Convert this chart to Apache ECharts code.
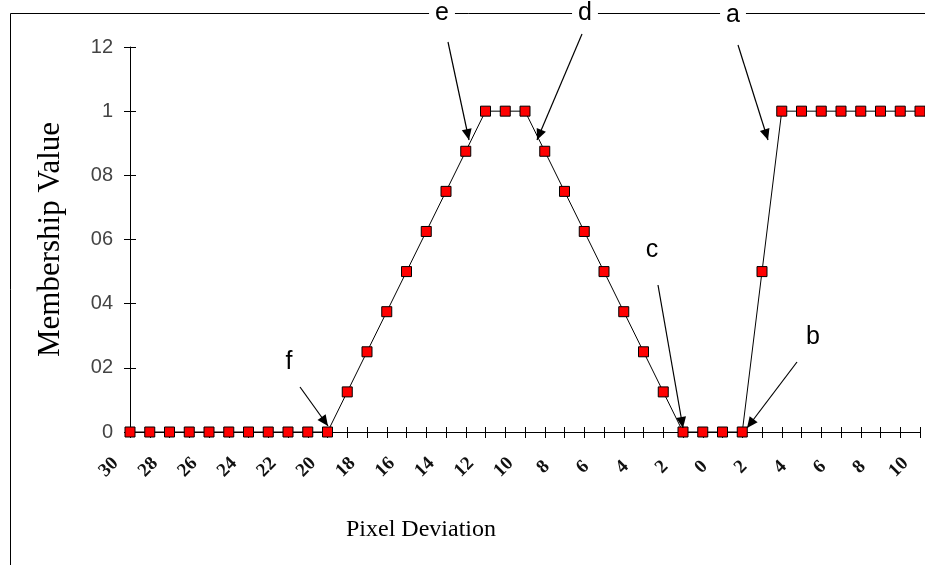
<!DOCTYPE html>
<html>
<head>
<meta charset="utf-8">
<script src="https://cdn.jsdelivr.net/npm/echarts@6/dist/echarts.min.js"></script>
<style>
  html, body { margin: 0; padding: 0; background: #fff; }
  #main { width: 925px; height: 565px; }
</style>
</head>
<body>
<div id="main"></div>
<script>
// 像素偏差（类目轴）
var pixelDeviation = [-30, -29, -28, -27, -26, -25, -24, -23, -22, -21, -20,
  -19, -18, -17, -16, -15, -14, -13, -12, -11, -10,
  -9, -8, -7, -6, -5, -4, -3, -2, -1, 0,
  1, 2, 3, 4, 5, 6, 7, 8, 9, 10];
// 隶属度
var membership = [0, 0, 0, 0, 0, 0, 0, 0, 0, 0, 0,
  0.125, 0.25, 0.375, 0.5, 0.625, 0.75, 0.875, 1, 1, 1,
  0.875, 0.75, 0.625, 0.5, 0.375, 0.25, 0.125, 0, 0, 0,
  0, 0.5, 1, 1, 1, 1, 1, 1, 1, 1];
// y轴刻度文字（原图中小数点丢失）
var yTickLabels = ['0', '02', '04', '06', '08', '1', '12'];

// 注释箭头: 文字位置 + 起点 + 终点
var notes = [
  { t: 'e', tx: 442, ty: 13, from: [448, 42], to: [469, 140] },
  { t: 'd', tx: 585, ty: 13, from: [582, 34], to: [537, 140] },
  { t: 'a', tx: 733, ty: 15, from: [738, 45], to: [768, 140] },
  { t: 'c', tx: 652, ty: 250, from: [658, 285], to: [683, 428] },
  { t: 'b', tx: 813, ty: 337, from: [797, 362], to: [747, 428] },
  { t: 'f', tx: 289, ty: 362, from: [300, 387], to: [328, 426] }
];

var div = document.getElementById('main');
var myChart = echarts.init(div);

// 箭头三角形
function arrowHead(from, to) {
  var dx = to[0] - from[0], dy = to[1] - from[1];
  var len = Math.sqrt(dx * dx + dy * dy);
  var ux = dx / len, uy = dy / len;
  var L = 11, W = 5;
  var bx = to[0] - ux * L, by = to[1] - uy * L;
  return [to, [bx - uy * W, by + ux * W], [bx + uy * W, by - ux * W]];
}

var graphics = [
  // 外框
  {
    type: 'rect', z: 0, silent: true,
    shape: { x: 10.5, y: 13.5, width: 1000, height: 600 },
    style: { fill: null, stroke: '#000', lineWidth: 1 }
  }
];
notes.forEach(function (n) {
  graphics.push({
    type: 'line', z: 10, silent: true,
    shape: { x1: n.from[0], y1: n.from[1], x2: n.to[0], y2: n.to[1] },
    style: { stroke: '#000', lineWidth: 1.2 }
  });
  graphics.push({
    type: 'polygon', z: 10, silent: true,
    shape: { points: arrowHead(n.from, n.to) },
    style: { fill: '#000' }
  });
  graphics.push({
    type: 'text', z: 11, silent: true,
    x: n.tx, y: n.ty,
    style: {
      text: n.t, fill: '#000',
      font: '25px "Liberation Sans", Arial, sans-serif',
      align: 'center', verticalAlign: 'middle',
      backgroundColor: n.ty < 30 ? '#fff' : null,
      padding: [0, 6, 0, 6]
    }
  });
});

var option = {
  animation: false,
  backgroundColor: '#fff',
  grid: { left: 130, right: 5, top: 47, bottom: 133 },
  xAxis: [
    {
      type: 'category',
      data: pixelDeviation,
      boundaryGap: false,
      name: 'Pixel Deviation',
      nameLocation: 'middle',
      nameGap: 86,
      nameTextStyle: {
        fontFamily: '"Liberation Serif", "Times New Roman", serif',
        fontSize: 24, color: '#000', padding: [0, 208, 0, 0]
      },
      axisLine: { lineStyle: { color: '#000', width: 1 } },
      axisTick: { show: true, length: 6, interval: 0, lineStyle: { color: '#000' } },
      axisLabel: {
        interval: 1,
        rotate: 45,
        margin: 14,
        align: 'center',
        verticalAlign: 'middle',
        padding: [0, 60, 0, 0],
        fontFamily: '"Liberation Serif", "Times New Roman", serif',
        fontSize: 19,
        fontWeight: 'bold',
        color: '#111',
        formatter: function (v) { return String(Math.abs(Number(v))); }
      },
      splitLine: { show: false }
    },
    {
      // 轴内侧刻度
      type: 'category',
      data: pixelDeviation,
      boundaryGap: false,
      position: 'bottom',
      axisLine: { show: false },
      axisTick: { show: true, inside: true, length: 5, interval: 0, lineStyle: { color: '#000' } },
      axisLabel: { show: false },
      splitLine: { show: false }
    }
  ],
  yAxis: [
    {
      type: 'value',
      min: 0,
      max: 1.2,
      interval: 0.2,
      name: 'Membership Value',
      nameLocation: 'middle',
      nameGap: 64,
      nameTextStyle: {
        fontFamily: '"Liberation Serif", "Times New Roman", serif',
        fontSize: 31, color: '#000'
      },
      axisLine: { show: true, lineStyle: { color: '#000', width: 1 } },
      axisTick: { show: true, length: 6, lineStyle: { color: '#000' } },
      axisLabel: {
        margin: 17,
        fontFamily: '"Liberation Sans", Arial, sans-serif',
        fontSize: 20,
        color: '#444',
        formatter: function (v) { return yTickLabels[Math.round(v / 0.2)]; }
      },
      splitLine: { show: false }
    },
    {
      type: 'value',
      min: 0,
      max: 1.2,
      interval: 0.2,
      position: 'left',
      axisLine: { show: false },
      axisTick: { show: true, inside: true, length: 6, lineStyle: { color: '#000' } },
      axisLabel: { show: false },
      splitLine: { show: false }
    }
  ],
  series: [
    {
      name: 'Membership',
      type: 'line',
      data: membership,
      symbol: 'rect',
      symbolSize: 10,
      showAllSymbol: true,
      lineStyle: { color: '#000', width: 1 },
      itemStyle: { color: '#ff0000', borderColor: '#000', borderWidth: 1 },
      z: 5
    }
  ],
  graphic: graphics
};
myChart.setOption(option);
</script>
</body>
</html>
